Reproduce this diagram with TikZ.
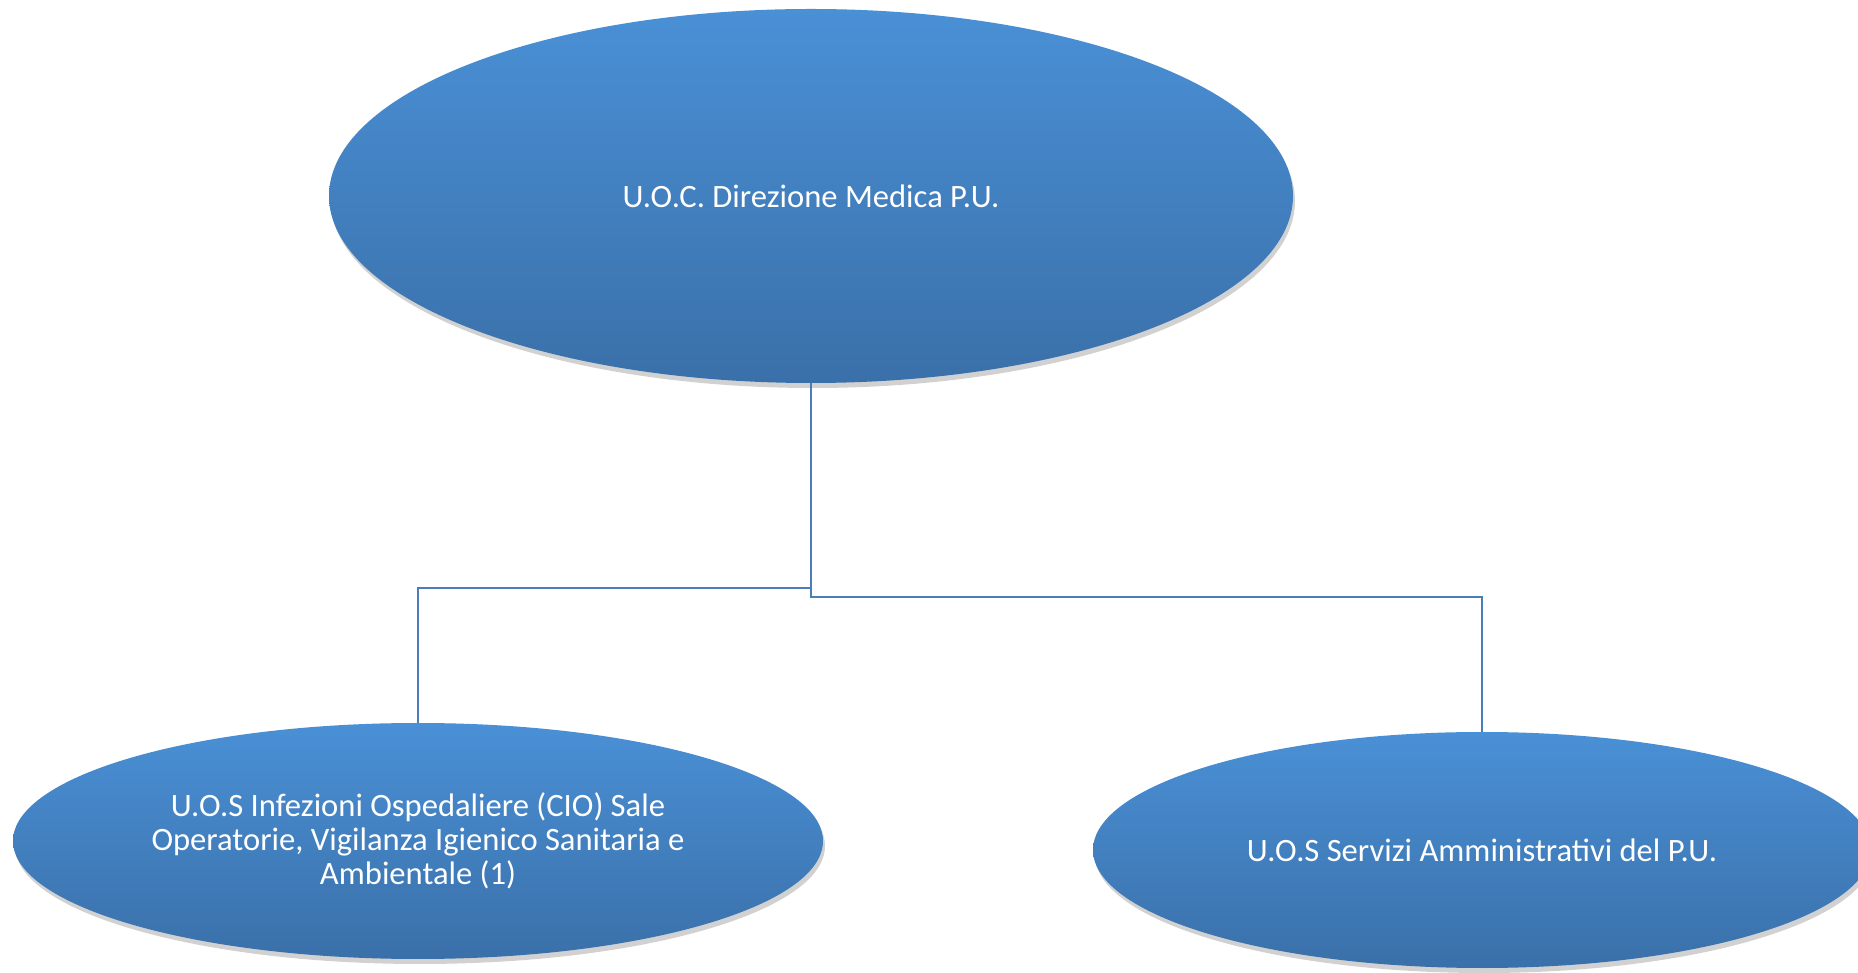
\documentclass[tikz,border=0pt]{standalone}
\usepackage{fontspec}
\setmainfont{Carlito}
\usetikzlibrary{shapes.geometric,shadows}
\definecolor{elltop}{HTML}{4A90D6}
\definecolor{ellbot}{HTML}{3A70A9}
\definecolor{linec}{HTML}{4A7EBB}
\tikzset{
  org/.style={ellipse, inner sep=0pt, top color=elltop, bottom color=ellbot,
    draw=none, text=white, font=\fontsize{32.6}{34}\selectfont, align=center,
    drop shadow={shadow xshift=2pt, shadow yshift=-5pt, opacity=0.3, fill=black!60}},
  conn/.style={draw=linec, line width=2.2pt}
}
\begin{document}
\begin{tikzpicture}[x=1pt,y=1pt]
\useasboundingbox (0,0) rectangle (1858,972);
\clip (0,0) rectangle (1858,972);
\node[org, minimum width=964pt, minimum height=374pt] (top) at (811,776) {U.O.C. Direzione Medica P.U.};
\node[org, minimum width=810pt, minimum height=236pt] (left) at (418,131) {U.O.S Infezioni Ospedaliere (CIO) Sale\\Operatorie, Vigilanza Igienico Sanitaria e\\Ambientale (1)};
\node[org, minimum width=778pt, minimum height=236pt] (right) at (1482,122) {U.O.S Servizi Amministrativi del P.U.};
\draw[conn] (top.south) -- ++(0,-205) -| (left.north);
\draw[conn] (top.south) -- ++(0,-214) -| (right.north);
\end{tikzpicture}
\end{document}
